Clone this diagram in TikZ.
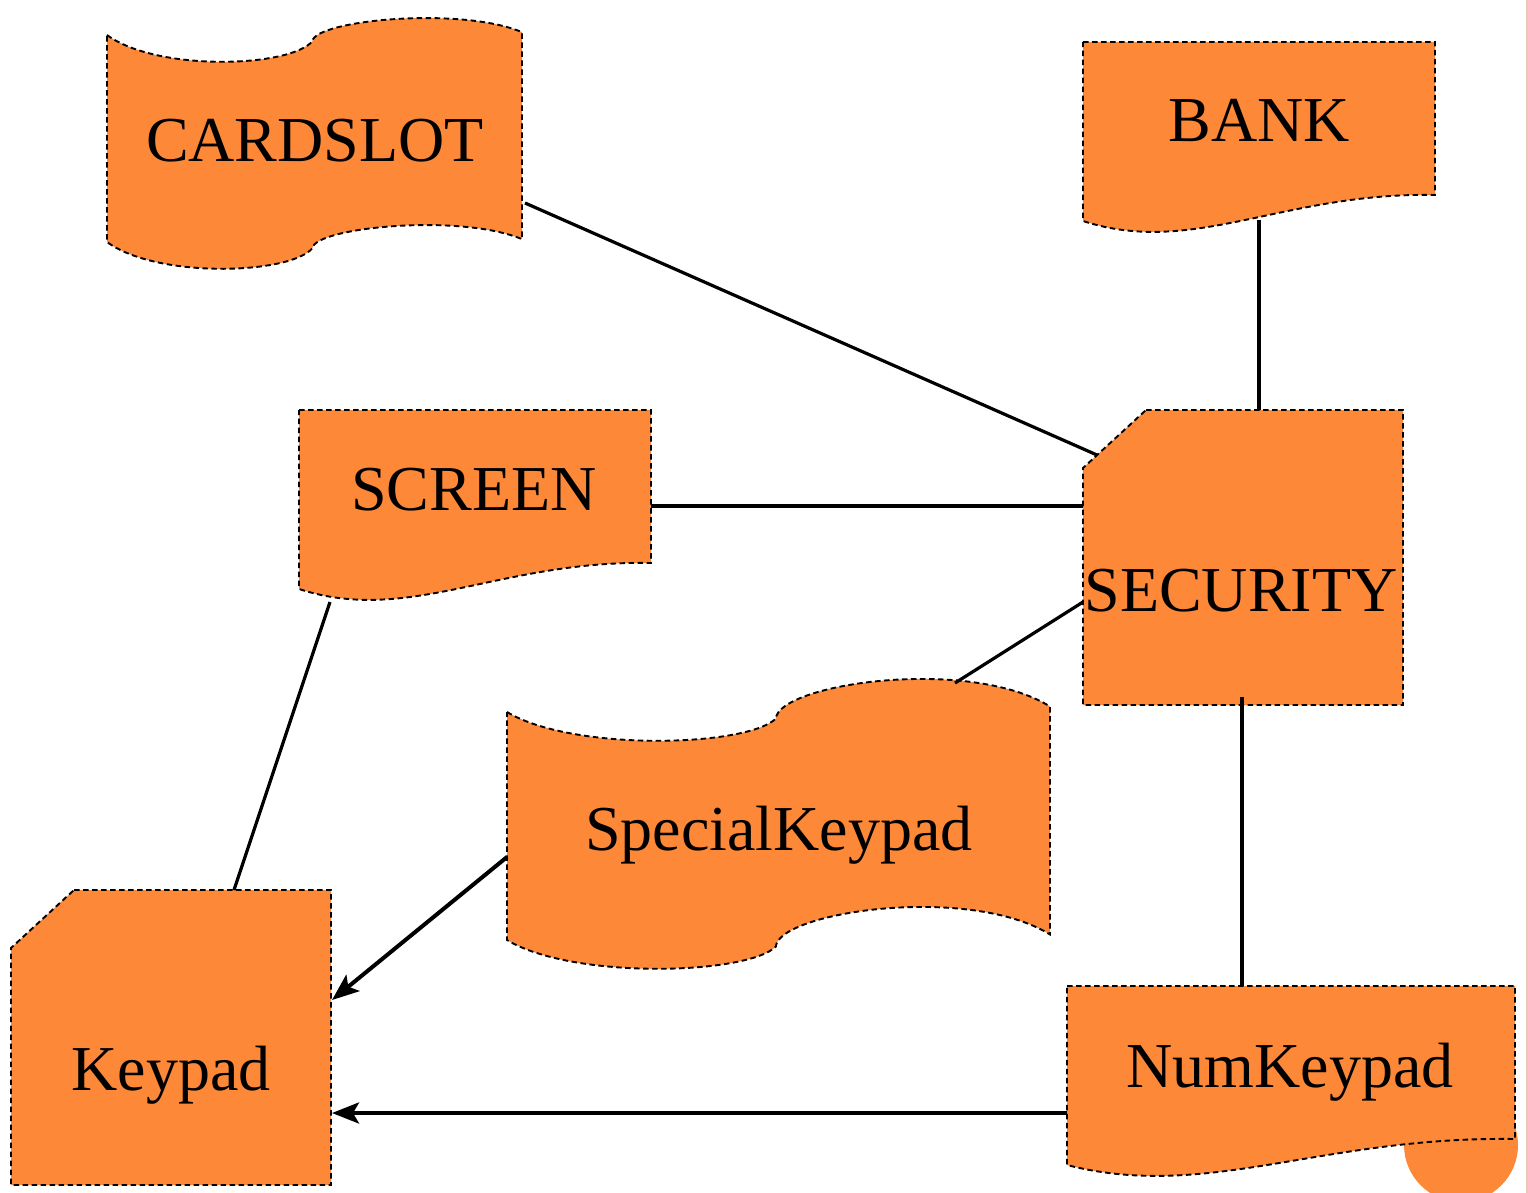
\documentclass[tikz,border=0pt]{standalone}
\usepackage{fontspec}
\setmainfont{Liberation Serif}
\usetikzlibrary{arrows.meta}
\definecolor{boxorange}{RGB}{253,136,56}
\definecolor{edgepink}{RGB}{240,196,182}

% punched tape: x0, y0 (top of left edge), width, height, dip, hump
\newcommand\tapeshape[6]{%
  \filldraw[shapebox] (#1,#2)
    .. controls ({#1+0.12*#3},{#2+1.36*#5}) and ({#1+0.44*#3},{#2+1.21*#5}) .. ({#1+0.495*#3},{#2+0.23*#5})
    .. controls ({#1+0.5*#3},{#2-0.97*#6}) and ({#1+0.85*#3},{#2-1.93*#6}) .. ({#1+#3},{#2-0.19*#6})
    -- ({#1+#3},{#2+#4-0.19*#6})
    .. controls ({#1+0.85*#3},{#2+#4-1.93*#6}) and ({#1+0.5*#3},{#2+#4-0.97*#6}) .. ({#1+0.495*#3},{#2+#4+0.23*#5})
    .. controls ({#1+0.44*#3},{#2+#4+1.21*#5}) and ({#1+0.12*#3},{#2+#4+1.36*#5}) .. (#1,{#2+#4})
    -- cycle;}
% document: x0, y0, width
\newcommand\docshape[3]{%
  \filldraw[shapebox] (#1,#2) -- ({#1+#3},#2) -- ({#1+#3},{#2+153})
    .. controls ({#1+0.568*#3},{#2+150}) and ({#1+0.3125*#3},{#2+215}) .. (#1,{#2+179})
    -- cycle;}
% card with cut corner: x0, y0, x1, y1
\newcommand\cardshape[4]{%
  \filldraw[shapebox] ({#1+63},#2) -- (#3,#2) -- (#3,#4) -- (#1,#4) -- (#1,{#2+58}) -- cycle;}

\begin{document}
\begin{tikzpicture}[x=1pt,y=-1pt,
  shapebox/.style={fill=boxorange, draw=black, line width=1.9pt, dash pattern=on 5.5pt off 3.5pt},
  lbl/.style={anchor=base, inner sep=0pt, font=\fontsize{64}{72}\selectfont},
  link/.style={draw=black, line width=3.2pt},
  flow/.style={draw=black, line width=4pt, -{Stealth[length=27pt,width=21pt,inset=6pt]}}]
\clip[use as bounding box] (0,0) rectangle (1528,1193);
\fill[white] (0,0) rectangle (1528,1193);
\draw[edgepink, line width=1.2pt] (1527,0) -- (1527,1193);

% shapes
\tapeshape{107}{35}{415}{207}{27}{15}
\docshape{1083}{42}{352}
\docshape{299}{410}{352}
\cardshape{1083}{410}{1403}{705}
\tapeshape{507}{712}{543}{228}{29}{29}
\cardshape{11}{890}{331}{1185}
\fill[boxorange] (1461,1145) circle (57);
\docshape{1067}{986}{448}

% labels
\node[lbl] (cardslot) at (315,162) {CARDSLOT};
\node[lbl] (bank) at (1259,142) {BANK};
\node[lbl] (screen) at (474,510) {SCREEN};
\node[lbl] (security) at (1241,611) {SECURITY};
\node[lbl] (special) at (779,850) {SpecialKeypad};
\node[lbl] (keypad) at (171,1090) {Keypad};
\node[lbl] (numkeypad) at (1290,1087) {NumKeypad};

% connector ends on the outlines
\coordinate (cardslot-e) at (525,203);
\coordinate (security-nw) at (1097,455);
\coordinate (bank-s) at (1259,220);
\coordinate (security-n) at (1259,410);
\coordinate (screen-e) at (651,506);
\coordinate (security-w) at (1083,506);
\coordinate (security-sw) at (1083,602);
\coordinate (special-n) at (955,683);
\coordinate (security-s) at (1242,697);
\coordinate (numkeypad-n) at (1242,986);
\coordinate (screen-s) at (330,602);
\coordinate (keypad-n) at (234,890);
\coordinate (special-w) at (507,857);
\coordinate (keypad-e1) at (332,1000);
\coordinate (numkeypad-w) at (1067,1113);
\coordinate (keypad-e2) at (332,1113);

% connectors
\draw[link] (cardslot-e) -- (security-nw);
\draw[link] (bank-s) -- (security-n);
\draw[link] (screen-e) -- (security-w);
\draw[link] (security-sw) -- (special-n);
\draw[link] (security-s) -- (numkeypad-n);
\draw[link] (screen-s) -- (keypad-n);
\draw[flow] (special-w) -- (keypad-e1);
\draw[flow] (numkeypad-w) -- (keypad-e2);
\end{tikzpicture}
\end{document}
